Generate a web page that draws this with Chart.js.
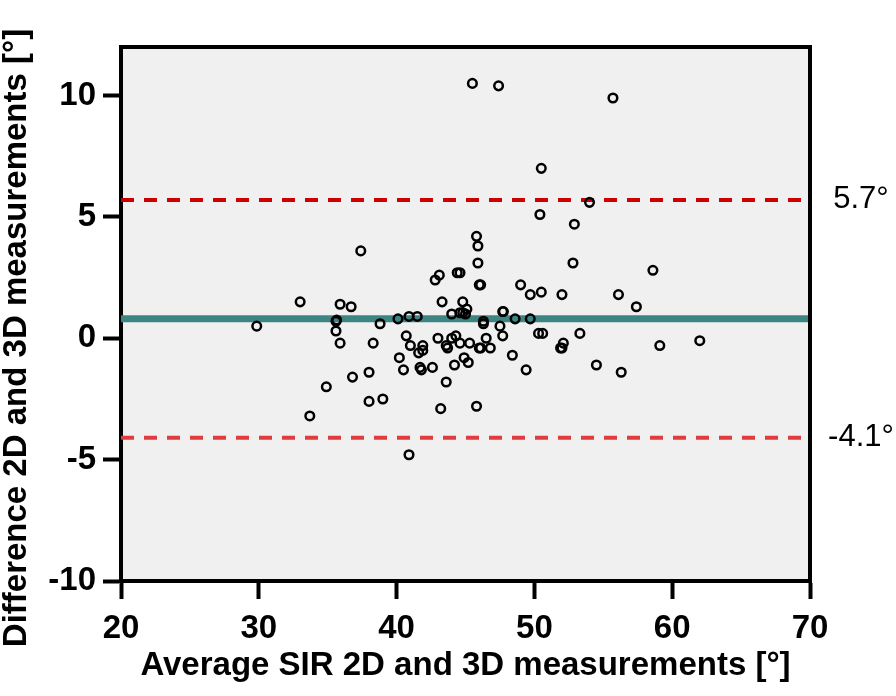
<!DOCTYPE html>
<html>
<head>
<meta charset="utf-8">
<script src="https://cdn.jsdelivr.net/npm/chart.js@4/dist/chart.umd.min.js"></script>
<style>
  html, body { margin: 0; padding: 0; background: #fff; }
  #chart { display: block; }
</style>
</head>
<body>
<canvas id="chart" width="896" height="696"></canvas>
<script>
// Bland-Altman data: average of SIR 2D/3D vs difference
const avgValues = [
  29.85, 33.0, 33.7, 34.9, 35.6, 35.65, 35.6, 35.9, 35.9, 36.7,
  36.8, 37.4, 38.0, 38.0, 38.3, 38.8, 39.0, 40.1, 40.2, 40.5,
  40.7, 40.9, 40.9, 41.0, 41.5, 41.6, 41.7, 41.8, 41.9, 41.9,
  42.6, 42.8, 43.0, 43.1, 43.2, 43.3, 43.6, 43.7, 43.6, 44.0,
  44.0, 44.3, 44.2, 44.4, 44.6, 44.6, 44.6, 44.8, 44.8, 44.9,
  45.0, 45.1, 45.2, 45.3, 45.5, 45.8, 45.9, 45.9, 45.8, 46.0,
  46.1, 46.0, 46.1, 46.3, 46.3, 46.5, 46.8, 47.4, 47.5, 47.7,
  47.75, 47.7, 48.4, 48.6, 49.0, 49.4, 49.7, 49.7, 50.3, 50.4,
  50.5, 50.5, 50.6, 51.9, 52.0, 52.1, 52.0, 52.8, 52.9, 53.3,
  54.0, 54.5, 55.7, 56.1, 56.3, 57.4, 58.6, 59.1, 62.0
];
const diffValues = [
  0.5, 1.5, -3.2, -2.0, 0.7, 0.75, 0.3, 1.4, -0.2, 1.3,
  -1.6, 3.6, -1.4, -2.6, -0.2, 0.6, -2.5, 0.8, -0.8, -1.3,
  0.1, 0.9, -4.8, -0.3, 0.9, -0.6, -1.2, -1.3, -0.3, -0.5,
  -1.2, 2.4, 0.0, 2.6, -2.9, 1.5, -0.3, -0.4, -1.8, 1.0,
  0.0, 0.1, -1.1, 2.7, 2.7, 1.05, -0.2, 1.5, 1.05, -0.8,
  1.0, 1.2, -1.0, -0.2, 10.5, 4.2, 3.8, 3.1, -2.8, 2.2,
  2.2, -0.4, -0.4, 0.7, 0.6, 0.0, -0.4, 10.4, 0.5, 1.1,
  1.1, 0.1, -0.7, 0.8, 2.2, -1.3, 1.8, 0.8, 0.2, 5.1,
  7.0, 1.9, 0.2, -0.4, -0.4, -0.2, 1.8, 3.1, 4.7, 0.2,
  5.6, -1.1, 9.9, 1.8, -1.4, 1.3, 2.8, -0.3, -0.1
];
const xTicks = [20, 30, 40, 50, 60, 70];
const yTicks = [-10, -5, 0, 5, 10];
const meanDiff = 0.8;
const upperLoA = 5.7;
const lowerLoA = -4.1;
const loaLabels = ['5.7°', '-4.1°'];

const FONT = "'Liberation Sans', Arial, sans-serif";

function hLine(value) {
  return [{ x: xTicks[0], y: value }, { x: xTicks[xTicks.length - 1], y: value }];
}

const framePlugin = {
  id: 'frame',
  beforeDraw(chart) {
    const { ctx, chartArea: a } = chart;
    ctx.save();
    ctx.fillStyle = '#ffffff';
    ctx.fillRect(0, 0, chart.width, chart.height);
    ctx.fillStyle = '#f0f0f0';
    ctx.fillRect(a.left, a.top, a.right - a.left, a.bottom - a.top);
    ctx.restore();
  },
  afterDraw(chart) {
    const { ctx, chartArea: a, scales } = chart;
    ctx.save();
    // top and right frame
    ctx.strokeStyle = '#000';
    ctx.lineWidth = 4;
    ctx.beginPath();
    ctx.moveTo(a.left - 2, a.top);
    ctx.lineTo(a.right, a.top);
    ctx.lineTo(a.right, a.bottom + 2);
    ctx.stroke();

    // limits of agreement labels
    ctx.fillStyle = '#000';
    ctx.font = '31px ' + FONT;
    ctx.textAlign = 'center';
    ctx.textBaseline = 'middle';
    ctx.fillText(loaLabels[0], 861, scales.y.getPixelForValue(upperLoA));
    ctx.fillText(loaLabels[1], 861, scales.y.getPixelForValue(lowerLoA));

    // y axis title
    ctx.font = 'bold 33px ' + FONT;
    ctx.translate(17, 338);
    ctx.rotate(-Math.PI / 2);
    ctx.fillText('Difference 2D and 3D measurements [°]', 0, 0);
    ctx.restore();
  }
};

new Chart(document.getElementById('chart'), {
  type: 'scatter',
  data: {
    datasets: [
      {
        label: 'points',
        data: avgValues.map((x, i) => ({ x: x, y: diffValues[i] })),
        pointStyle: 'circle',
        pointRadius: 4.3,
        borderWidth: 2.5,
        borderColor: '#000',
        backgroundColor: 'rgba(0,0,0,0)',
        order: 1
      },
      {
        type: 'line',
        data: hLine(meanDiff),
        borderColor: '#3d8582',
        borderWidth: 7,
        pointRadius: 0,
        order: 2
      },
      {
        type: 'line',
        data: hLine(upperLoA),
        borderColor: '#cc0000',
        borderWidth: 4,
        borderDash: [13, 10],
        pointRadius: 0,
        order: 2
      },
      {
        type: 'line',
        data: hLine(lowerLoA),
        borderColor: '#e03c40',
        borderWidth: 4,
        borderDash: [13, 10],
        pointRadius: 0,
        order: 2
      }
    ]
  },
  options: {
    responsive: false,
    animation: false,
    layout: { padding: { left: 0, right: 86, top: 47, bottom: 0 } },
    plugins: {
      legend: { display: false },
      tooltip: { enabled: false }
    },
    scales: {
      x: {
        type: 'linear',
        min: 20,
        max: 70,
        afterBuildTicks: (scale) => { scale.ticks = xTicks.map(v => ({ value: v })); },
        afterFit: (scale) => { scale.height = 115; },
        grid: { drawOnChartArea: false, drawTicks: true, tickLength: 18, tickWidth: 4, tickColor: '#000' },
        border: { display: true, color: '#000', width: 4 },
        ticks: { color: '#000', font: { family: FONT, size: 33, weight: 'bold' }, padding: 10, maxRotation: 0 },
        title: {
          display: true,
          text: 'Average SIR 2D and 3D measurements [°]',
          color: '#000',
          font: { family: FONT, size: 33, weight: 'bold' },
          padding: { top: 0, bottom: 10 }
        }
      },
      y: {
        type: 'linear',
        min: -10,
        max: 12,
        afterBuildTicks: (scale) => { scale.ticks = yTicks.map(v => ({ value: v })); },
        afterFit: (scale) => { scale.width = 121; },
        grid: { drawOnChartArea: false, drawTicks: true, tickLength: 18, tickWidth: 4, tickColor: '#000' },
        border: { display: true, color: '#000', width: 4 },
        ticks: { color: '#000', font: { family: FONT, size: 33, weight: 'bold' }, padding: 7 }
      }
    }
  },
  plugins: [framePlugin]
});
</script>
</body>
</html>
